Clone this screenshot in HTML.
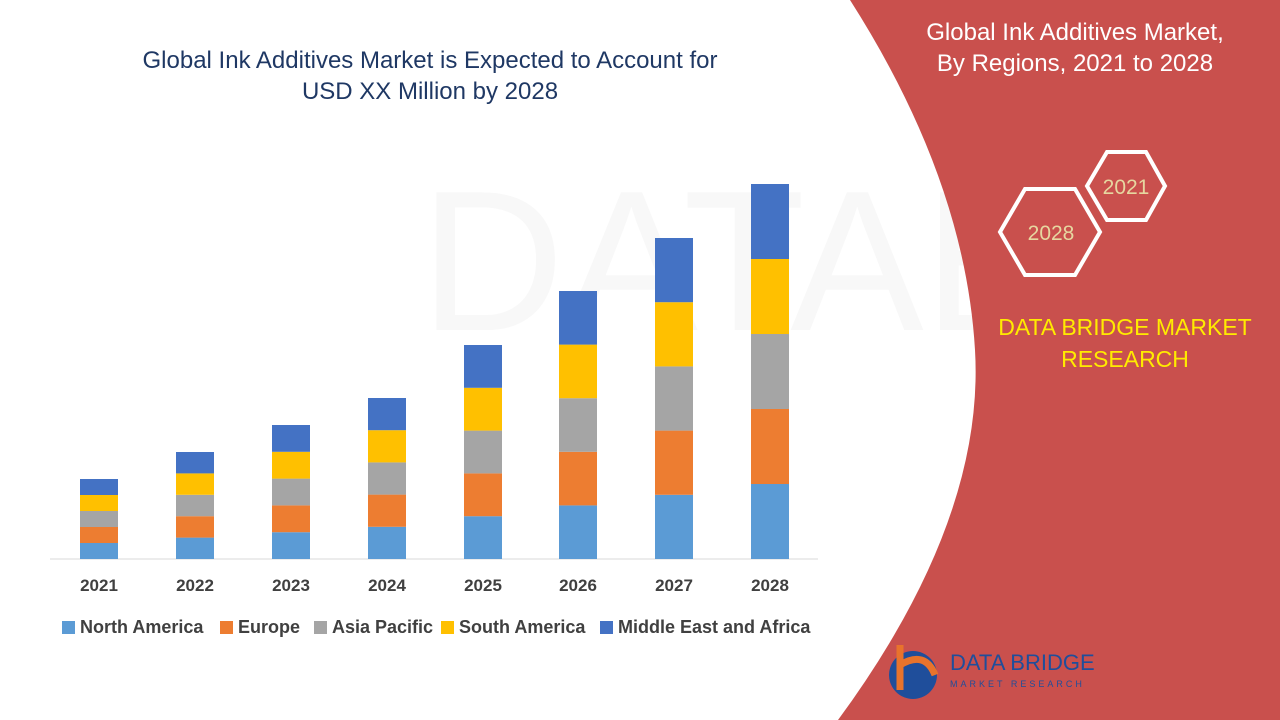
<!DOCTYPE html>
<html><head><meta charset="utf-8"><style>
body{margin:0;width:1280px;height:720px;overflow:hidden;background:#fff;font-family:"Liberation Sans",sans-serif;position:relative}
.t{position:absolute;text-align:center;color:#1F3864;font-size:24px;line-height:31px}
.ax{position:absolute;font-size:17px;font-weight:bold;color:#404040;width:60px;text-align:center;top:576px}
.lg{position:absolute;top:617px;font-size:18px;font-weight:bold;color:#404040;display:flex;align-items:center}
.lg i{display:inline-block;width:13px;height:13px;margin-right:5px}
</style></head><body>
<svg width="1280" height="720" style="position:absolute;left:0;top:0">
<text x="420" y="330" font-size="200" fill="#f8f8f8" font-family="Liberation Sans">DATABRIDGE</text>
<path d="M850,0 L1280,0 L1280,720 L838,720 Q985,520 975,350 Q965,180 850,0 Z" fill="#C9504D"/>
<polygon points="1087,186 1107,152 1146,152 1165,186 1146,220 1107,220" fill="none" stroke="#fff" stroke-width="4"/>
<polygon points="1000,232 1025,189 1075,189 1100,232 1075,275 1025,275" fill="none" stroke="#fff" stroke-width="4"/>
<text x="1126" y="194" font-size="21" fill="#E6D7A0" text-anchor="middle">2021</text>
<text x="1051" y="240" font-size="21" fill="#E6D7A0" text-anchor="middle">2028</text>
<line x1="50" y1="559" x2="818" y2="559" stroke="#d9d9d9"/>
<g id="bars"></g>
<circle cx="913" cy="675" r="24" fill="#1F4E9B"/>
<path d="M900,645 L900,690 M900,665 Q925,650 935,675" stroke="#E8732C" stroke-width="7" fill="none"/>
<text x="950" y="670" font-size="22" fill="#1F4E9B">DATA BRIDGE</text>
<text x="950" y="687" font-size="9" fill="#1F4E9B" letter-spacing="3">MARKET RESEARCH</text>
</svg>
<div class="t" style="left:100px;width:660px;top:45px">Global Ink Additives Market is Expected to Account for<br>USD XX Million by 2028</div>
<div class="t" style="left:900px;width:350px;top:17px;color:#fff">Global Ink Additives Market,<br>By Regions, 2021 to 2028</div>
<div class="t" style="left:960px;width:330px;top:311px;color:#FFEB00;font-size:23px;line-height:32px">DATA BRIDGE MARKET<br>RESEARCH</div>
<div class="ax" style="left:69px">2021</div><div class="ax" style="left:165px">2022</div><div class="ax" style="left:261px">2023</div><div class="ax" style="left:357px">2024</div><div class="ax" style="left:453px">2025</div><div class="ax" style="left:548px">2026</div><div class="ax" style="left:644px">2027</div><div class="ax" style="left:740px">2028</div>
<div class="lg" style="left:62px"><i style="background:#5B9BD5"></i>North America</div>
<div class="lg" style="left:220px"><i style="background:#ED7D31"></i>Europe</div>
<div class="lg" style="left:314px"><i style="background:#A5A5A5"></i>Asia Pacific</div>
<div class="lg" style="left:441px"><i style="background:#FFC000"></i>South America</div>
<div class="lg" style="left:600px"><i style="background:#4472C4"></i>Middle East and Africa</div>
<script>
var c=[99,195,291,387,483,578,674,770],h=[16,21.4,26.8,32.2,42.8,53.6,64.2,75],col=["#5B9BD5","#ED7D31","#A5A5A5","#FFC000","#4472C4"],s="";
for(var i=0;i<8;i++){for(var k=0;k<5;k++){var y=559-h[i]*(k+1);s+='<rect x="'+(c[i]-19)+'" y="'+y+'" width="38" height="'+h[i]+'" fill="'+col[k]+'"/>';}}
document.getElementById("bars").innerHTML=s;
</script>
</body></html>
